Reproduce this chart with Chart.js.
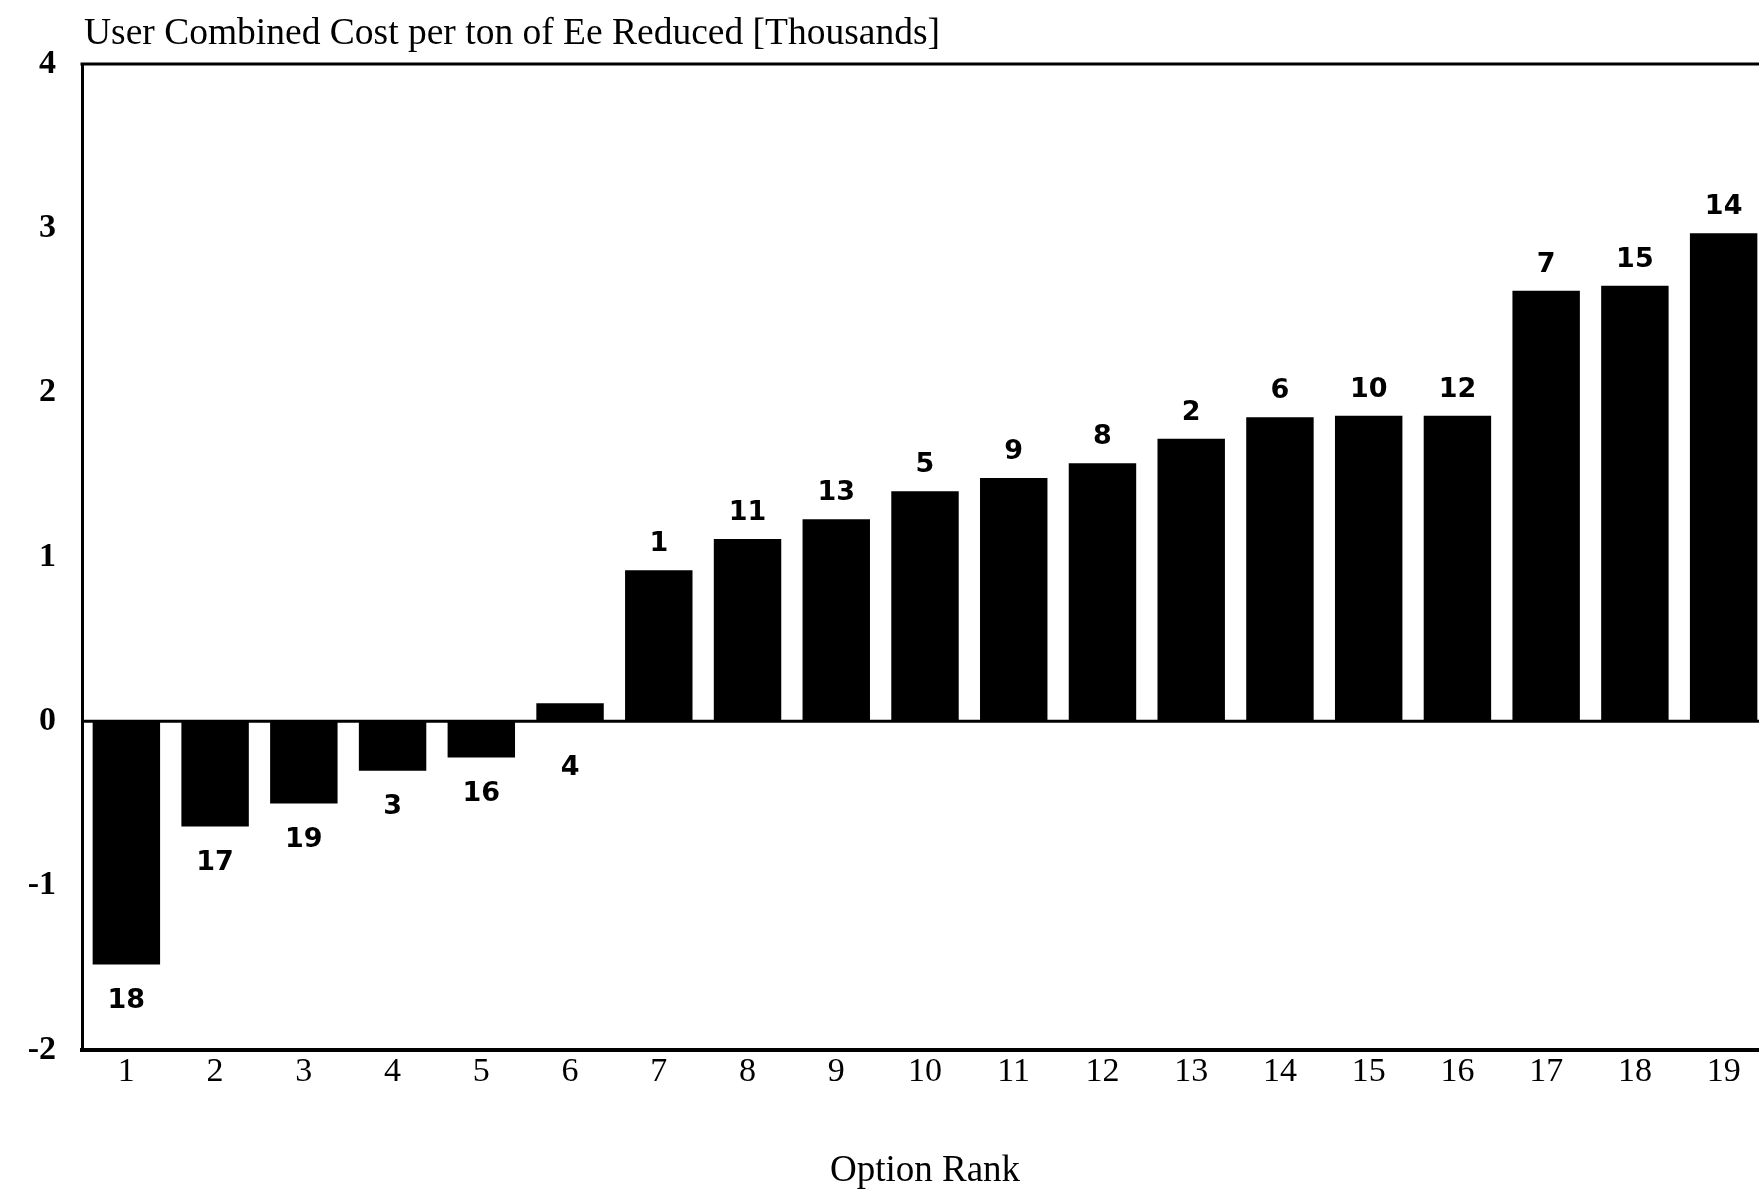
<!DOCTYPE html>
<html>
<head>
<meta charset="utf-8">
<script src="https://cdn.jsdelivr.net/npm/chart.js@4.4.0/dist/chart.umd.min.js"></script>
<style>
  html, body { margin: 0; padding: 0; background: #fff; overflow: hidden; }
  #wrap { width: 1770px; height: 1190px; position: relative; }
</style>
</head>
<body>
<div id="wrap"><canvas id="c"></canvas></div>
<script>
// ---- data ----
const categories = ['1','2','3','4','5','6','7','8','9','10','11','12','13','14','15','16','17','18','19'];
const costValues = [-1.48, -0.64, -0.50, -0.30, -0.22, 0.11, 0.92, 1.11, 1.23, 1.40, 1.48, 1.57, 1.72, 1.85, 1.86, 1.86, 2.62, 2.65, 2.97];
const optionLabels = ['18','17','19','3','16','4','1','11','13','5','9','8','2','6','10','12','7','15','14'];
const yTicks = [-2, -1, 0, 1, 2, 3, 4];
const chartTitle = 'User Combined Cost per ton of Ee Reduced [Thousands]';
const xTitle = 'Option Rank';

const serif = '"Liberation Serif", "Times New Roman", serif';

const framePlugin = {
  id: 'frame',
  afterDatasetsDraw(chart) {
    const {ctx, chartArea: a} = chart;
    ctx.save();
    ctx.strokeStyle = '#000';
    ctx.lineWidth = 3;
    ctx.beginPath();
    ctx.moveTo(a.left - 1.5, a.top);
    ctx.lineTo(a.right, a.top);
    ctx.stroke();
    const z = chart.scales.y.getPixelForValue(0);
    ctx.beginPath();
    ctx.moveTo(a.left, z);
    ctx.lineTo(a.right, z);
    ctx.stroke();
    // bar labels
    const meta = chart.getDatasetMeta(0);
    ctx.fillStyle = '#000';
    ctx.font = 'bold 27px "DejaVu Sans", sans-serif';
    ctx.textAlign = 'center';
    ctx.textBaseline = 'middle';
    meta.data.forEach((el, i) => {
      const v = costValues[i];
      let y;
      if (v >= 0.2) y = el.y - 26;
      else if (v < 0) y = el.y + 36;
      else y = el.base + 47;
      ctx.fillText(optionLabels[i], el.x, y);
    });
    // top title
    ctx.font = '37.5px ' + serif;
    ctx.textAlign = 'left';
    ctx.fillText(chartTitle, a.left + 2, 34);
    ctx.restore();
  }
};

new Chart(document.getElementById('c'), {
  type: 'bar',
  data: {
    labels: categories,
    datasets: [{
      data: costValues,
      backgroundColor: '#000',
      borderWidth: 0,
      categoryPercentage: 1.0,
      barPercentage: 0.76
    }]
  },
  options: {
    responsive: true,
    maintainAspectRatio: false,
    animation: false,
    layout: { padding: { top: 64, right: 2, left: 0, bottom: 0 } },
    plugins: { legend: { display: false }, tooltip: { enabled: false }, title: { display: false } },
    scales: {
      x: {
        grid: { display: false, drawTicks: false },
        border: { display: true, color: '#000', width: 4 },
        ticks: { color: '#000', font: { family: serif, size: 34 }, padding: 2, maxRotation: 0 },
        title: { display: true, text: xTitle, color: '#000', font: { family: serif, size: 37, lineHeight: 1 }, padding: 0 },
        afterFit(scale) { scale.height = 140; }
      },
      y: {
        min: -2, max: 4,
        afterBuildTicks(scale) { scale.ticks = yTicks.map(v => ({ value: v })); },
        grid: { display: false, drawTicks: false },
        border: { display: true, color: '#000', width: 3 },
        ticks: { color: '#000', font: { family: serif, size: 34, weight: 'bold' }, padding: 26 },
        afterFit(scale) { scale.width = 82; }
      }
    }
  },
  plugins: [framePlugin]
});
</script>
</body>
</html>
